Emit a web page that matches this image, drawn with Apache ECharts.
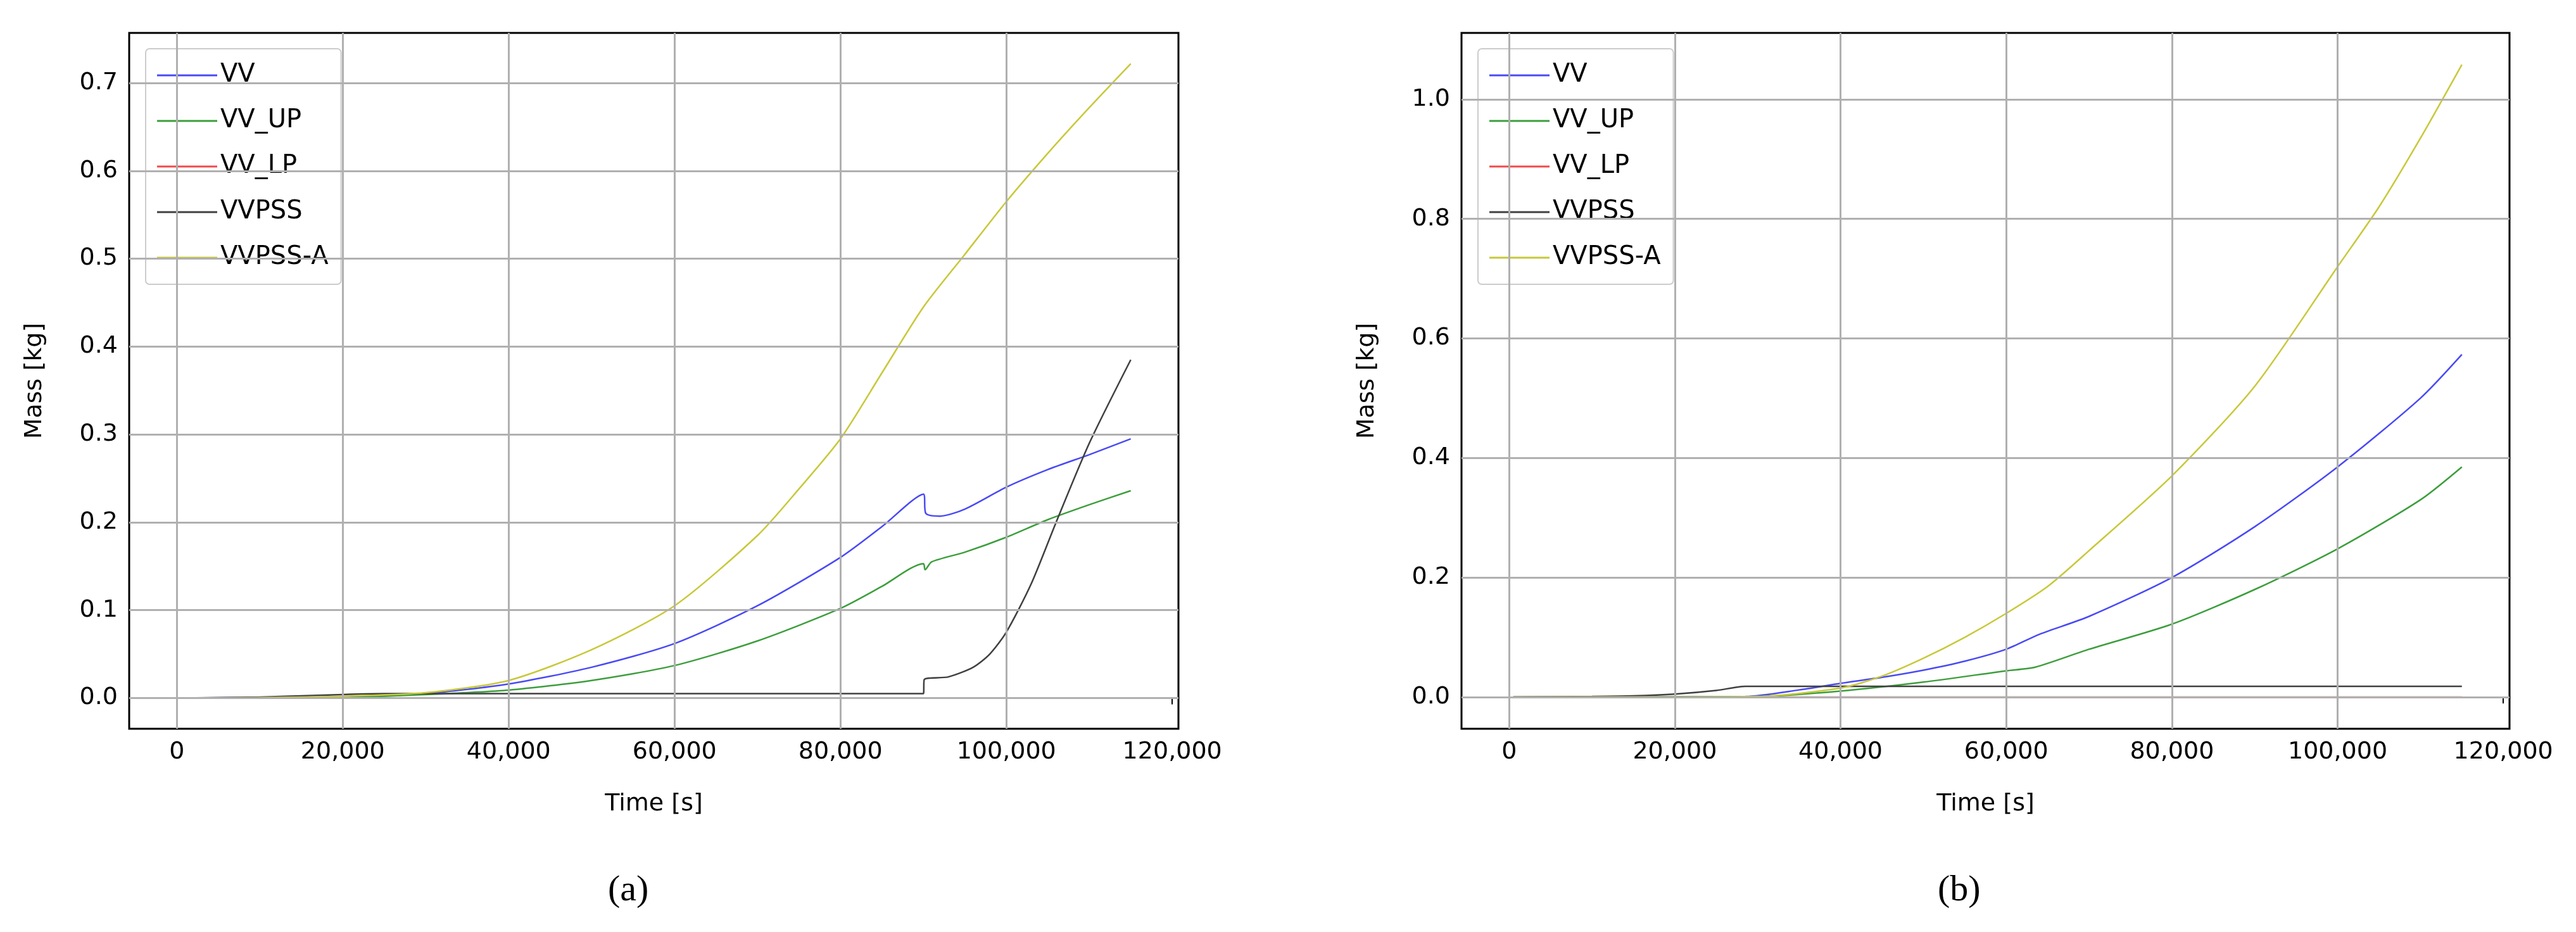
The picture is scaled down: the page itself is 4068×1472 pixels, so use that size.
<!DOCTYPE html>
<html>
<head>
<meta charset="utf-8">
<script src="https://cdn.jsdelivr.net/npm/echarts@6/dist/echarts.min.js"></script>
<style>html,body{margin:0;padding:0;background:#fff}#chart{width:4068px;height:1472px}</style>
</head>
<body>
<div id="chart"></div>
<script>
// chart (a)
var aVV = [[500,0],[10000,0.0005],[20000,0.001],[30000,0.005],[40000,0.016],[50000,0.035],[60000,0.062],[70000,0.105],[80000,0.16],[85000,0.195],[90000,0.232],[90300,0.21],[92000,0.207],[95000,0.215],[100000,0.24],[105000,0.26],[110000,0.277],[115000,0.295]];
var aVVUP = [[500,0],[20000,0.001],[30000,0.004],[40000,0.009],[50000,0.02],[60000,0.037],[70000,0.065],[80000,0.102],[85000,0.127],[90000,0.153],[90200,0.146],[91000,0.155],[95000,0.166],[100000,0.183],[105000,0.203],[110000,0.22],[115000,0.236]];
var aVVLP = [[500,0],[115000,0]];
var aVVPSS = [[500,0],[10000,0.001],[20000,0.004],[25000,0.005],[90000,0.005],[90100,0.021],[93000,0.024],[96000,0.035],[98000,0.05],[100000,0.075],[103000,0.13],[106000,0.2],[110000,0.29],[115000,0.385]];
var aVVPSSA = [[500,0],[10000,0.0005],[20000,0.002],[30000,0.006],[40000,0.02],[50000,0.055],[60000,0.105],[70000,0.185],[75000,0.238],[80000,0.295],[85000,0.37],[90000,0.445],[95000,0.505],[100000,0.565],[105000,0.62],[110000,0.672],[115000,0.722]];
// chart (b)
var bVV = [[500,0],[28500,0.001],[35000,0.012],[40000,0.023],[45000,0.033],[50000,0.045],[55000,0.06],[60000,0.08],[64000,0.105],[70000,0.135],[80000,0.2],[90000,0.285],[100000,0.385],[110000,0.5],[115000,0.573]];
var bVVUP = [[500,0],[30000,0.001],[40000,0.01],[50000,0.025],[60000,0.044],[63500,0.05],[70000,0.08],[80000,0.122],[90000,0.18],[100000,0.248],[110000,0.33],[115000,0.385]];
var bVVLP = [[500,0],[115000,0]];
var bVVPSS = [[500,0],[10000,0.001],[15000,0.002],[20000,0.005],[25000,0.011],[28500,0.018],[115000,0.018]];
var bVVPSSA = [[500,0],[20000,0.0003],[30000,0.001],[40000,0.015],[45000,0.035],[50000,0.065],[55000,0.1],[60000,0.14],[65000,0.185],[70000,0.245],[80000,0.37],[90000,0.52],[100000,0.72],[105000,0.82],[110000,0.935],[115000,1.058]];

var xTicks = [0,20000,40000,60000,80000,100000,120000];
var aYTicks = [0,0.1,0.2,0.3,0.4,0.5,0.6,0.7];
var bYTicks = [0,0.2,0.4,0.6,0.8,1.0];

var names = ['VV','VV_UP','VV_LP','VVPSS','VVPSS-A'];
var colors = ['#4a4af5','#3c9e3c','#f24a4a','#404040','#c8c83a'];
var font = 'DejaVu Sans';

function fmtX(v){ return v.toString().replace(/\B(?=(\d{3})+(?!\d))/g, ','); }

var grids = [
  {left:204, top:52, width:1657, height:1099, show:true, borderColor:'#000', borderWidth:3, backgroundColor:'transparent'},
  {left:2308, top:52, width:1655, height:1099, show:true, borderColor:'#000', borderWidth:3, backgroundColor:'transparent'}
];
function xAxis(i){
  return {gridIndex:i, type:'value', min:-5750, max:120750,
    name:'Time [s]', nameLocation:'middle', nameGap:100,
    nameTextStyle:{fontFamily:font, fontSize:38, color:'#000'},
    axisLine:{show:false},
    axisTick:{show:true, length:10, customValues:xTicks, lineStyle:{color:'#000', width:2}},
    axisLabel:{fontFamily:font, fontSize:38, color:'#000', margin:18, customValues:xTicks, formatter:fmtX},
    splitLine:{show:false}};
}
function yAxis(i, min, max, ticks){
  return {gridIndex:i, type:'value', min:min, max:max,
    name:'Mass [kg]', nameLocation:'middle', nameGap:130,
    nameTextStyle:{fontFamily:font, fontSize:38, color:'#000'},
    axisLine:{show:false},
    axisTick:{show:true, length:10, customValues:ticks, lineStyle:{color:'#000', width:2}},
    axisLabel:{fontFamily:font, fontSize:38, color:'#000', margin:18, customValues:ticks,
      formatter:function(v){ return v.toFixed(1); }},
    splitLine:{show:false}};
}
function gridLines(yt){
  return {silent:true, symbol:'none', label:{show:false}, animation:false,
    lineStyle:{color:'#b0b0b0', width:3, type:'solid'},
    data:yt.map(function(v){return {yAxis:v};}).concat(xTicks.slice(0,6).map(function(v){return {xAxis:v};}))};
}
var datasA = [aVV,aVVUP,aVVLP,aVVPSS,aVVPSSA];
var datasB = [bVV,bVVUP,bVVLP,bVVPSS,bVVPSSA];
var series = [];
[datasA, datasB].forEach(function(ds, gi){
  ds.forEach(function(d, k){
    var s = {name:names[k], type:'line', xAxisIndex:gi, yAxisIndex:gi, data:d,
      symbol:'none', smooth:0.25, lineStyle:{color:colors[k], width:2.5}, itemStyle:{color:colors[k]}, z:k==2?1:2};
    if (k == 0) s.markLine = gridLines(gi == 0 ? aYTicks : bYTicks);
    series.push(s);
  });
});
function legend(left){
  return {left:left, top:77, orient:'vertical', data:names, icon:'rect', itemWidth:95, itemHeight:3,
    itemGap:32, padding:[22,20,22,18], backgroundColor:'#fff', borderColor:'#ccc', borderWidth:2, borderRadius:6,
    textStyle:{fontFamily:font, fontSize:40, color:'#000'}};
}
var chart = echarts.init(document.getElementById('chart'));
chart.setOption({
  animation:false,
  grid:grids,
  xAxis:[xAxis(0), xAxis(1)],
  yAxis:[yAxis(0, -0.035, 0.757, aYTicks), yAxis(1, -0.053, 1.111, bYTicks)],
  legend:[legend(230), legend(2334)],
  series:series,
  graphic:[
    {type:'text', left:960, top:1378, style:{text:'(a)', font:'58px "Liberation Serif"', fill:'#000'}},
    {type:'text', left:3060, top:1378, style:{text:'(b)', font:'58px "Liberation Serif"', fill:'#000'}}
  ]
});
</script>
</body>
</html>
